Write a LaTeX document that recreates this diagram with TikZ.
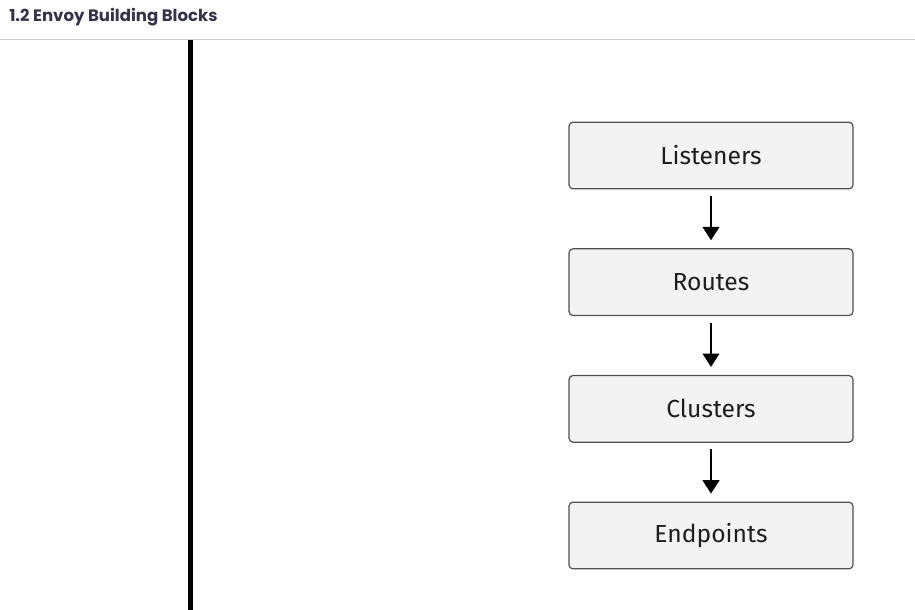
\documentclass[tikz,border=0pt]{standalone}
\usepackage{fontspec}
\setmainfont{Fira Sans}
\newfontfamily\titlefont{Poppins}
\usepackage{tikz}
\usetikzlibrary{arrows.meta,positioning}
\definecolor{blockfill}{RGB}{243,243,243}
\definecolor{blockdraw}{RGB}{80,80,80}
\definecolor{blocktext}{RGB}{30,30,30}
\definecolor{titlegray}{RGB}{51,51,77}
\definecolor{rulegray}{RGB}{208,208,216}
\tikzstyle{flow} = [line width=1.5pt,-{Triangle[width=12.5pt,length=10pt]},shorten <=5pt,shorten >=6pt,color=black]

\begin{document}
\begin{tikzpicture}[
    x=0.75pt, y=-0.75pt,
    node distance=44.1pt,
    block/.style={rectangle, rounded corners=3pt, draw=blockdraw, line width=0.9pt, fill=blockfill, text=blocktext, minimum width=213pt, minimum height=50pt, align=center, font=\fontsize{18.5}{22}\selectfont}
]
\useasboundingbox (0,0) rectangle (915,610);

% Title and rules
\node[anchor=west, font=\titlefont\bfseries\fontsize{12.4}{14}\selectfont, text=titlegray, inner sep=0pt] (title) at (9,17) {1.2 Envoy Building Blocks};
\coordinate (ruleL) at (0,39.5);
\coordinate (ruleR) at (915,39.5);
\draw[rulegray, line width=0.8pt] (ruleL) -- (ruleR);
\coordinate (barT) at (190.5,40);
\coordinate (barB) at (190.5,610);
\draw[black, line width=3.2pt] (barT) -- (barB);

% Blocks
\node[block] (listeners) at (711,155.5) {Listeners};
\node[block, below=of listeners] (routes) {Routes};
\node[block, below=of routes] (clusters) {Clusters};
\node[block, below=of clusters] (endpoints) {Endpoints};

% Arrows
\draw[flow] (listeners) -- (routes);
\draw[flow] (routes) -- (clusters);
\draw[flow] (clusters) -- (endpoints);

\end{tikzpicture}
\end{document}
